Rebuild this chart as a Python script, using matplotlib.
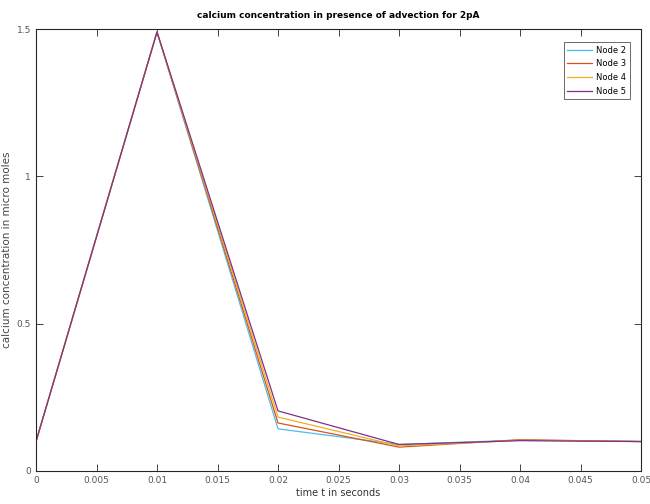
import matplotlib
matplotlib.use("Agg")
import matplotlib.pyplot as plt
import numpy as np

# time points (s) and calcium concentration per node (micro moles)
t = [0.0, 0.01, 0.02, 0.03, 0.04, 0.05]
node2 = [0.10, 1.49, 0.143, 0.090, 0.105, 0.100]
node3 = [0.10, 1.49, 0.163, 0.081, 0.106, 0.100]
node4 = [0.10, 1.49, 0.183, 0.085, 0.104, 0.100]
node5 = [0.10, 1.49, 0.204, 0.090, 0.103, 0.100]
labels = ["Node 2", "Node 3", "Node 4", "Node 5"]
colors = ["#4dbeee", "#d95319", "#edb120", "#7e2f8e"]

xticks = np.arange(0, 0.0501, 0.005)
xticklabels = ["0", "0.005", "0.01", "0.015", "0.02", "0.025",
               "0.03", "0.035", "0.04", "0.045", "0.05"]
yticks = [0, 0.5, 1, 1.5]
yticklabels = ["0", "0.5", "1", "1.5"]

fig = plt.figure(figsize=(6.5, 5.04), dpi=100)
ax = fig.add_axes([36/650, 1 - 471/504, 605/650, 442/504])

for series, lab, col in zip([node2, node3, node4, node5], labels, colors):
    ax.plot(t, series, color=col, lw=0.9, label=lab)

ax.set_xlim(0, 0.05)
ax.set_ylim(0, 1.5)
ax.set_xticks(xticks)
ax.set_xticklabels(xticklabels)
ax.set_yticks(yticks)
ax.set_yticklabels(yticklabels)
ax.tick_params(direction="in", top=True, right=True, labelsize=6.5,
               colors="#262626", length=5, width=0.6, labelcolor="#555555")
for s in ax.spines.values():
    s.set_linewidth(0.8)
    s.set_color("#262626")

ax.set_title("calcium concentration in presence of advection for 2pA",
             fontsize=6.5, fontweight="bold", pad=8)
ax.set_xlabel("time t in seconds", fontsize=7, labelpad=2, color="#333333")
ax.set_ylabel("calcium concentration in micro moles", fontsize=7.5,
              color="#444444")
ax.yaxis.set_label_coords(-0.040, 0.5)

leg = ax.legend(loc="upper right", fontsize=6, handlelength=3.0,
                frameon=True, fancybox=False, edgecolor="#262626",
                borderpad=0.45, labelspacing=0.55, handletextpad=0.4,
                bbox_to_anchor=(0.988, 0.98))
leg.get_frame().set_linewidth(0.6)

fig.savefig("out.png", dpi=100)
